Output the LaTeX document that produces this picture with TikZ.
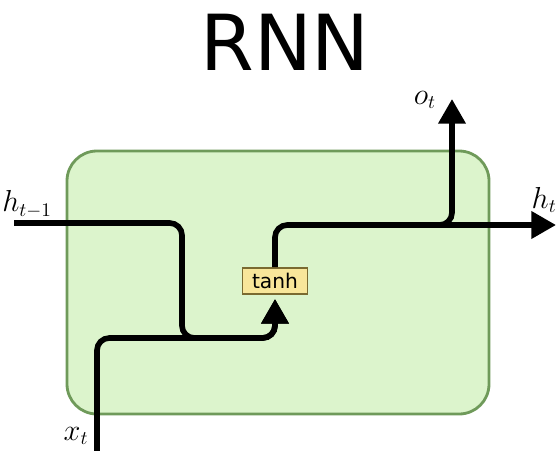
\documentclass[tikz,border=0pt]{standalone}
\usepackage{fontspec}
\newfontfamily\titlefont{DejaVu Sans}
\usetikzlibrary{arrows.meta}

\definecolor{cellfill}{HTML}{DCF4CC}
\definecolor{celldraw}{HTML}{6F9A5A}
\definecolor{gatefill}{HTML}{F8E69A}
\definecolor{gatedraw}{HTML}{7A6A30}

\tikzstyle{cell} = [draw=celldraw,fill=cellfill,line width=1.6pt,rounded corners=17pt]
\tikzstyle{gate} = [draw=gatedraw,fill=gatefill,line width=0.9pt,minimum width=37pt,minimum height=15pt,inner sep=2pt,font=\titlefont\fontsize{11.5}{13}\selectfont]
\tikzstyle{wire} = [line width=3.2pt,rounded corners=7pt]
\tikzstyle{tip} = [-{Triangle[length=14pt,width=15pt]}]
\tikzstyle{lbl} = [font=\fontsize{16}{18}\selectfont,inner sep=0pt]

\begin{document}
\begin{tikzpicture}[x=0.02cm,y=-0.02cm]
	\useasboundingbox (0,0) rectangle (558,450);
	\node[font=\titlefont\fontsize{44}{50}\selectfont] (title) at (285,42) {RNN};
	
	\draw[cell] (67,151) rectangle (489,414);
	
	\node[gate] (tanh) at (275,281) {tanh};
	
	\coordinate (hin) at (14,223);
	\coordinate (xin) at (97,455);
	\coordinate (tin) at (275,299);
	\coordinate (split) at (420,225);
	\coordinate (hout) at (556,225);
	\coordinate (oout) at (452,99);
	
	\node[lbl,anchor=west] (hprev) at (2,204) {$h_{t-1}$};
	\node[lbl] (xlbl) at (76,436) {$x_t$};
	\node[lbl] (olbl) at (425,100) {$o_t$};
	\node[lbl,anchor=east] (hlbl) at (557,200) {$h_t$};
	
	\draw[wire,tip] (hin) -| (182,338) -| (tin);
	\draw[wire,tip] (xin) |- (200,338) -| (tin);
	\draw[wire,tip] (tanh.north) |- (hout);
	\draw[wire,tip] (split) -| (oout);
\end{tikzpicture}
\end{document}
